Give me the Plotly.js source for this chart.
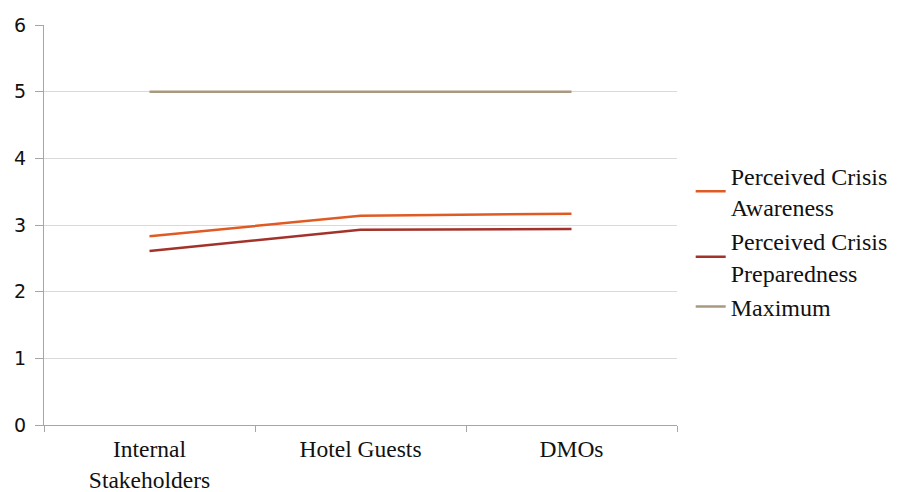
<!DOCTYPE html>
<html>
<head>
<meta charset="utf-8">
<script src="https://cdn.plot.ly/plotly-3.0.1.min.js"></script>
<style>html,body{margin:0;padding:0;background:#fff;}#chart{width:897px;height:492px;}</style>
</head>
<body>
<div id="chart"></div>
<script>
const categories = ["Internal<br>Stakeholders", "Hotel Guests", "DMOs"];
const seriesNames = ["Perceived Crisis<br>Awareness", "Perceived Crisis<br>Preparedness", "Maximum"];
const awareness = [2.83, 3.14, 3.17];
const preparedness = [2.61, 2.93, 2.94];
const maximum = [5, 5, 5];
const yTicks = [0, 1, 2, 3, 4, 5, 6];
const colors = ["#E05A24", "#A3322A", "#A89A7E"];

const serif = "'Liberation Serif', 'Times New Roman', 'DejaVu Serif', serif";
const series = [awareness, preparedness, maximum];
const traces = series.map((vals, i) => ({
  type: "scatter",
  mode: "lines",
  x: categories,
  y: vals,
  name: seriesNames[i],
  line: {color: colors[i], width: 2.5},
  hoverinfo: "skip"
}));

const layout = {
  width: 897, height: 492,
  margin: {l: 44, r: 220, t: 25, b: 67},
  paper_bgcolor: "#fff", plot_bgcolor: "#fff",
  showlegend: true,
  legend: {
    xref: "container", yref: "container",
    x: 0.77, xanchor: "left", y: 0.51, yanchor: "middle",
    font: {family: serif, size: 24, color: "#111"},
    tracegroupgap: 0, itemwidth: 30,
    traceorder: "normal"
  },
  xaxis: {
    type: "category",
    range: [-0.5, 2.5],
    tickson: "boundaries",
    ticks: "outside", ticklen: 6, tickcolor: "#A6A6A6",
    showline: true, linecolor: "#A6A6A6", linewidth: 1,
    showgrid: false, zeroline: false,
    ticklabelstandoff: 3,
    tickfont: {family: serif, size: 23.5, color: "#111"},
    fixedrange: true
  },
  yaxis: {
    range: [0, 6], tickvals: yTicks, ticktext: yTicks.map(String),
    ticks: "outside", ticklen: 8, tickcolor: "#A6A6A6",
    showline: true, linecolor: "#A6A6A6", linewidth: 1,
    showgrid: true, gridcolor: "#D9D9D9", gridwidth: 1,
    zeroline: false,
    ticklabelstandoff: 5,
    tickfont: {family: "DejaVu Sans", size: 19, color: "#111"},
    fixedrange: true
  }
};

Plotly.newPlot("chart", traces, layout, {displayModeBar: false, staticPlot: true});
</script>
</body>
</html>
